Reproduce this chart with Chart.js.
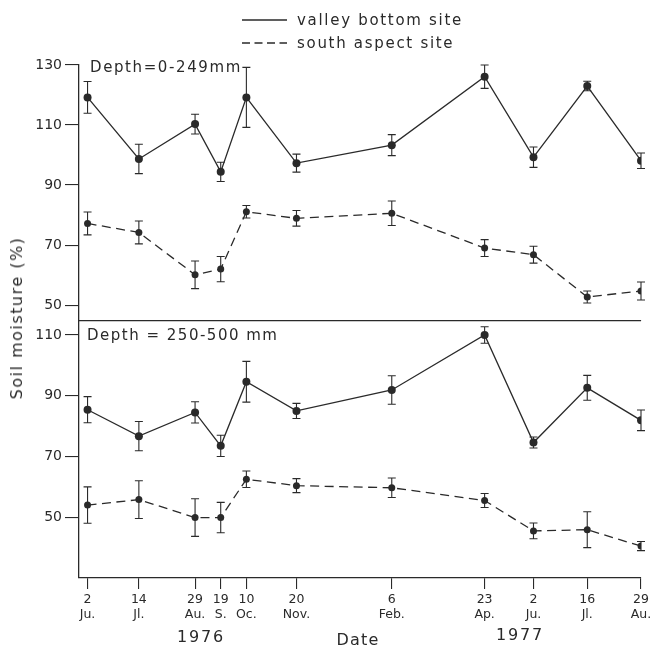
<!DOCTYPE html>
<html><head><meta charset="utf-8">
<script src="https://cdn.jsdelivr.net/npm/chart.js@4/dist/chart.umd.min.js"></script>
<style>
html,body{margin:0;padding:0;background:#fff;}
#wrap{position:relative;width:659px;height:648px;overflow:hidden;font-family:"DejaVu Sans",sans-serif;color:#2a2a2a;}
canvas{position:absolute;left:0;top:0;}
.t{position:absolute;white-space:nowrap;line-height:1;}
.l{transform:translateY(-50%);}
.c{transform:translate(-50%,-50%);}
</style></head><body>
<div id="wrap">
<canvas id="c1" width="659" height="648"></canvas>
<canvas id="c2" width="659" height="648"></canvas>
<svg style="position:absolute;left:0;top:0" width="659" height="60">
  <line x1="242" y1="20" x2="287" y2="20" stroke="#2a2a2a" stroke-width="1.3"/>
  <line x1="242" y1="43" x2="287" y2="43" stroke="#2a2a2a" stroke-width="1.3" stroke-dasharray="8,4.5"/>
</svg>
<div class="t l" style="left:297px;top:20px;font-size:15px;letter-spacing:1.7px">valley bottom site</div>
<div class="t l" style="left:297px;top:43px;font-size:15px;letter-spacing:1.7px">south aspect site</div>
<div class="t l" style="left:90px;top:67px;font-size:15px;letter-spacing:1.6px">Depth=0-249mm</div>
<div class="t l" style="left:87px;top:335px;font-size:15px;letter-spacing:1.5px">Depth = 250-500 mm</div>
<div class="t c" style="left:201px;top:637px;font-size:16px;letter-spacing:1.8px">1976</div>
<div class="t c" style="left:358px;top:640px;font-size:16px;letter-spacing:1.2px">Date</div>
<div class="t c" style="left:520px;top:635px;font-size:16px;letter-spacing:1.8px">1977</div>
<div class="t c" style="left:17px;top:318px;font-size:16px;letter-spacing:1.5px;transform:translate(-50%,-50%) rotate(-90deg)">Soil moisture (%)</div>
</div>
<script>
// ---- data ----
const dateLabels = [["2","Ju."],["14","Jl."],["29","Au."],["19","S."],["10","Oc."],["20","Nov."],["6","Feb."],["23","Ap."],["2","Ju."],["16","Jl."],["29","Au."]];
const dayOffsets = [0,42,88,109,130,171,249,325,365,409,453]; // days since 2 June 1976

const valleyTop      = [119.2, 98.7, 110.3, 94.4, 119.2, 97.3, 103.3, 126.1, 99.3, 123.0, 98.1];
const valleyTopErr   = [5.3, 4.9, 3.3, 3.2, 10.0, 3.0, 3.5, 3.9, 3.4, 1.6, 2.6];
const southTop       = [77.2, 74.2, 60.1, 62.0, 81.1, 78.9, 80.6, 69.0, 66.8, 52.7, 54.7];
const southTopErr    = [3.8, 3.8, 4.6, 4.2, 2.1, 2.6, 4.1, 2.8, 2.8, 2.0, 3.0];

const valleyBottom    = [85.4, 76.7, 84.5, 73.5, 94.6, 85.0, 91.9, 110.0, 74.6, 92.6, 81.9];
const valleyBottomErr = [4.3, 4.8, 3.5, 3.5, 6.7, 2.5, 4.7, 2.7, 1.8, 4.1, 3.4];
const southBottom     = [54.0, 55.8, 49.9, 49.9, 62.5, 60.4, 59.7, 55.5, 45.5, 45.9, 40.5];
const southBottomErr  = [6.0, 6.2, 6.2, 5.0, 2.7, 2.3, 3.2, 2.3, 2.6, 5.9, 1.5];

const topTicks = [50,70,90,110,130];
const bottomTicks = [50,70,90,110];

// ---- drawing ----
const INK = '#2a2a2a';
const errorBars = {
  id:'errorBars',
  afterDatasetsDraw(chart, args, opts){
    const {ctx} = chart; const x = chart.scales.x, y = chart.scales.y;
    ctx.save(); ctx.strokeStyle = INK; ctx.lineWidth = 1.1;
    chart.data.datasets.forEach((ds,di)=>{
      const errs = opts.errors[di];
      ds.data.forEach((p,i)=>{
        const px = x.getPixelForValue(p.x);
        const y1 = y.getPixelForValue(p.y+errs[i]), y2 = y.getPixelForValue(p.y-errs[i]);
        ctx.beginPath();
        ctx.moveTo(px,y1); ctx.lineTo(px,y2);
        ctx.moveTo(px-4,y1); ctx.lineTo(px+4,y1);
        ctx.moveTo(px-4,y2); ctx.lineTo(px+4,y2);
        ctx.stroke();
      });
    });
    ctx.restore();
  }
};

function pts(vals){ return vals.map((v,i)=>({x:dayOffsets[i], y:v})); }

function makeChart(id, vVals, vErr, sVals, sErr, yMin, yMax, yTicks, padTop, padBottom, showX){
  return new Chart(document.getElementById(id), {
    type:'line',
    data:{datasets:[
      {label:'valley bottom site', data:pts(vVals), borderColor:INK, backgroundColor:INK, borderWidth:1.3, pointRadius:4, pointBorderWidth:0, tension:0},
      {label:'south aspect site', data:pts(sVals), borderColor:INK, backgroundColor:INK, borderWidth:1.3, borderDash:[9,5.5], pointRadius:3.5, pointBorderWidth:0, tension:0}
    ]},
    options:{
      responsive:false, animation:false,
      layout:{padding:{left:0,right:18,top:padTop,bottom:padBottom}},
      plugins:{legend:{display:false}, tooltip:{enabled:false}, errorBars:{errors:[vErr,sErr]}},
      scales:{
        x:{type:'linear', min:-7, max:453,
          afterFit(s){ s.height = showX ? 50 : 0; },
          afterBuildTicks(s){ s.ticks = dayOffsets.map(v=>({value:v})); },
          border:{display:true,color:INK,width:1.3},
          grid:{display:showX, drawOnChartArea:false, drawTicks:showX, tickLength:11, color:INK, lineWidth:1.1},
          ticks:{display:showX, autoSkip:false, maxRotation:0, padding:3, color:INK,
            font:{family:'DejaVu Sans', size:12.5}, 
            callback(v){ const i = dayOffsets.indexOf(v); return i>=0 ? dateLabels[i] : ''; }}
        },
        y:{min:yMin, max:yMax,
          afterFit(s){ s.width = 79; },
          afterBuildTicks(s){ s.ticks = yTicks.map(v=>({value:v})); },
          border:{display:true,color:INK,width:1.3},
          grid:{drawOnChartArea:false, drawTicks:true, tickLength:14, color:INK, lineWidth:1.1},
          ticks:{padding:3, color:INK, font:{family:'DejaVu Sans', size:14}}
        }
      }
    },
    plugins:[errorBars]
  });
}

makeChart('c1', valleyTop, valleyTopErr, southTop, southTopErr, 44.7, 130, topTicks, 65, 648-321, false);
makeChart('c2', valleyBottom, valleyBottomErr, southBottom, southBottomErr, 30, 114.6, bottomTicks, 321, 648-578-50, true);
</script>
</body></html>
